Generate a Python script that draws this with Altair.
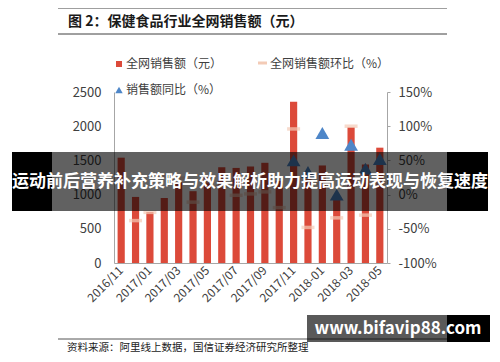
import altair as alt
import pandas as pd

months = ["2016/11", "2016/12", "2017/01", "2017/02", "2017/03", "2017/04", "2017/05",
          "2017/06", "2017/07", "2017/08", "2017/09", "2017/10", "2017/11", "2017/12",
          "2018-01", "2018-02", "2018-03", "2018-04", "2018-05"]
sales = [1540, 966, 745, 950, 1180, 1050, 1250, 1400, 1390, 1410, 1465, 1200,
         2356, 1225, 1426, 950, 1985, 1440, 1686]
mom = [None, -38, -26, 27, 24, -11, 19, 12, -1, 1, 4, -19, 96, -48, 16, -34, 100, -30, 17]
yoy_months = ["2017/11", "2017/12", "2018-01", "2018-02", "2018-03", "2018-04", "2018-05"]
yoy = [50, 33, 90, 0, 73, 38, 52]
tick_labels = months[::2]

title_text = "图 2：保健食品行业全网销售额（元）"
legend_sales = "全网销售额（元）"
legend_mom = "全网销售额环比（%）"
legend_yoy = "销售额同比（%）"
source_text = "资料来源：阿里线上数据，国信证券经济研究所整理"
banner_text = "运动前后营养补充策略与效果解析助力提高运动表现与恢复速度"
watermark_text = "www.bifavip88.com"

FONT = "Noto Sans CJK SC"
RED = "#DC4A3A"
BEIGE = "#F3CBB6"
BLUE = "#4E86C8"
AXIS_GRAY = "#A6A6A6"
LABEL = "#404040"

df_sales = pd.DataFrame({"month": months, "sales": sales})
df_mom = pd.DataFrame({"month": months, "mom": mom}).dropna()
df_yoy = pd.DataFrame({"month": yoy_months, "yoy": yoy})
one = pd.DataFrame({"k": [0]})

xscale = alt.Scale(domain=months, paddingInner=0.5, paddingOuter=0.25)
xaxis = alt.Axis(values=tick_labels, labelAngle=-45, labelAlign="right", labelBaseline="middle",
                 labelFontSize=12, labelColor=LABEL, ticks=False, domainColor=AXIS_GRAY,
                 labelPadding=5, title=None, labelFont=FONT)

bars = alt.Chart(df_sales).mark_bar(color=RED).encode(
    x=alt.X("month:N", scale=xscale, axis=xaxis),
    y=alt.Y("sales:Q", scale=alt.Scale(domain=[0, 2500], nice=False),
            axis=alt.Axis(values=[0, 500, 1000, 1500, 2000, 2500], grid=False, ticks=False,
                          format="d", domainColor=AXIS_GRAY, labelColor=LABEL, labelFontSize=13,
                          labelPadding=13, title=None, labelFont=FONT)),
)

pscale = alt.Scale(domain=[-100, 150], nice=False)

mom_layer = alt.Chart(df_mom).mark_tick(color=BEIGE, thickness=3.5, size=13).encode(
    x=alt.X("month:N", scale=xscale, axis=xaxis),
    y=alt.Y("mom:Q", scale=pscale,
            axis=alt.Axis(orient="right", values=[-100, -50, 0, 50, 100, 150], grid=False,
                          ticks=True, tickSize=3, tickColor=AXIS_GRAY, domainColor=AXIS_GRAY,
                          labelExpr="datum.value + '%'", labelColor=LABEL, labelFontSize=13,
                          labelPadding=8, title=None, labelFont=FONT)),
)

yoy_layer = alt.Chart(df_yoy).mark_point(shape="triangle-up", filled=True, color=BLUE,
                                         size=190, opacity=1).encode(
    x=alt.X("month:N", scale=xscale, axis=xaxis),
    y=alt.Y("yoy:Q", scale=pscale, axis=None),
)


def txt(text, x, y, size=12, weight="normal", color="#333333", align="left"):
    return alt.Chart(one).mark_text(text=text, font=FONT, fontSize=size, fontWeight=weight,
                                     color=color, align=align, baseline="middle").encode(
        x=alt.value(x), y=alt.value(y))


def hrule(x1, x2, y, color="#404040", width=1):
    return alt.Chart(one).mark_rule(color=color, strokeWidth=width).encode(
        x=alt.value(x1), x2=alt.value(x2), y=alt.value(y))


def box(x1, x2, y1, y2, color, opacity=1.0):
    return alt.Chart(one).mark_rect(color=color, opacity=opacity).encode(
        x=alt.value(x1), x2=alt.value(x2), y=alt.value(y1), y2=alt.value(y2))


decor = [
    hrule(-56, 333, -84),
    hrule(-56, 333, -58),
    txt(title_text, -46, -70, size=14, weight="bold", color="#1a1a1a"),
    box(2, 8, -31, -25, RED),
    txt(legend_sales, 12, -28, size=12, color=LABEL),
    box(144, 153, -30.5, -27.5, BEIGE),
    txt(legend_mom, 156, -28, size=12, color=LABEL),
    alt.Chart(one).mark_point(shape="triangle-up", filled=True, color=BLUE, size=55,
                              opacity=1).encode(x=alt.value(5), y=alt.value(-2)),
    txt(legend_yoy, 12, -2, size=12, color=LABEL),
    hrule(-56, 333, 247, color="#555555"),
    txt(source_text, -47, 255.5, size=10.5, color="#222222"),
    box(-102, -62, 60, 119, "#000000"),
    box(-62, 333, 60, 119, "#000000", opacity=0.62),
    box(333, 374, 60, 119, "#000000"),
    txt(banner_text, 136, 90, size=17, weight="bold", color="#ffffff", align="center"),
    box(193, 333, 223, 250, "#000000", opacity=0.65),
    box(333, 376, 223, 250, "#000000"),
    txt(watermark_text, 284, 237, size=17, weight="bold", color="#ffffff", align="center"),
]

chart = alt.layer(bars, mom_layer, yoy_layer, *decor).resolve_scale(
    y="independent"
).properties(
    width=273, height=171,
    autosize=alt.AutoSizeParams(type="none"),
    padding={"left": 106, "top": 84, "right": 105, "bottom": 91},
    background="white",
).configure_view(stroke=None)

chart.save("out.html", embed_options={"renderer": "svg", "actions": False})
